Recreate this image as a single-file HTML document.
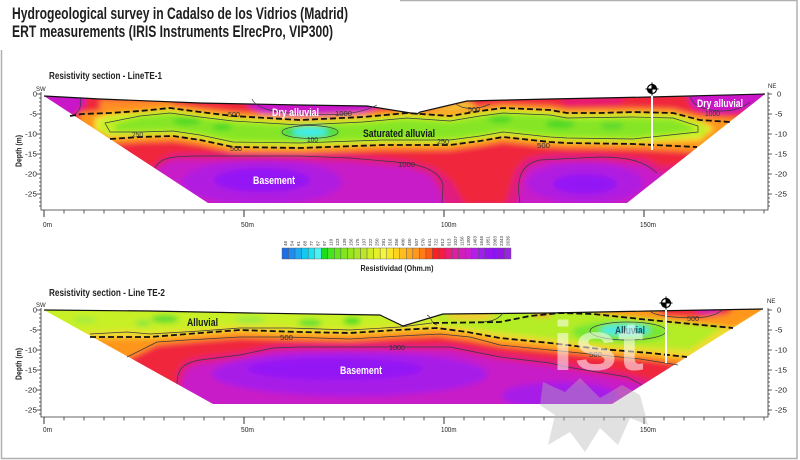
<!DOCTYPE html>
<html><head><meta charset="utf-8"><style>
html,body{margin:0;padding:0;background:#fff;}
svg{display:block;}
text{font-family:"Liberation Sans",Arial,sans-serif;}
</style></head><body>
<svg width="800" height="460" viewBox="0 0 800 460" xmlns="http://www.w3.org/2000/svg">
<defs>
<filter id="bl" x="-5%" y="-20%" width="110%" height="140%"><feGaussianBlur stdDeviation="2.6"/></filter>
<clipPath id="c1"><polygon points="44,96 100,99 200,103 300,105 367,106 417,114 420,112 467,101 550,99 650,97 765,94 627,203 208,203"/></clipPath>
<clipPath id="c2"><polygon points="44,310 150,311 250,313 380,315 403,326 443,314 550,313 650,311 763,309 612,404 213,404"/></clipPath>
</defs>

<!-- frame -->
<g stroke="#b0b0b0" stroke-width="1.5" fill="none">
<path d="M1.5,50 V458.5 H797 V0.5 H400"/>
</g>

<!-- titles -->
<text x="12" y="19" font-size="16.5" font-weight="bold" fill="#1e1e1e" textLength="336" lengthAdjust="spacingAndGlyphs">Hydrogeological survey in Cadalso de los Vidrios (Madrid)</text>
<text x="12" y="37" font-size="16.5" font-weight="bold" fill="#1e1e1e" textLength="321" lengthAdjust="spacingAndGlyphs">ERT measurements (IRIS Instruments ElrecPro, VIP300)</text>

<!-- ================= TE-1 ================= -->
<text x="49" y="79" font-size="10" font-weight="bold" fill="#222" textLength="113" lengthAdjust="spacingAndGlyphs">Resistivity section - LineTE-1</text>

<g clip-path="url(#c1)">
<g filter="url(#bl)">
<rect x="20" y="80" width="770" height="140" fill="#c81ec8"/>
<ellipse cx="262" cy="182" rx="80" ry="22" fill="#b01ee0"/>
<ellipse cx="262" cy="180" rx="48" ry="12" fill="#9414f5"/>
<ellipse cx="585" cy="183" rx="58" ry="20" fill="#b01ee0"/>
<ellipse cx="585" cy="184" rx="32" ry="10" fill="#9414f5"/>
<path fill="#e01e80" d="M20,80 H790 V172 L660,174 L645,165 L600,161 L550,161 L530,166 L522,178 L516,210 L446,210 L440,190 L430,175 L407,167 L350,162 L300,160 L173,160 L160,167 L150,178 L20,178 Z"/>
<path fill="#f0283c" d="M20,80 H790 V164 L660,166 L645,158 L600,154 L550,154 L527,158 L515,170 L505,205 L465,205 L452,182 L435,168 L407,160 L350,155 L300,154 L200,153 L173,153 L160,160 L150,168 L20,168 Z"/>
<path fill="#c814c8" d="M20,85 L88,85 L84,105 L75,114 L60,120 L20,120 Z"/>
<path fill="#c814c8" d="M245,95 L382,95 L380,106 L362,114 L330,117 L290,116 L262,114 L248,106 Z"/>
<path fill="#c814c8" d="M685,88 L780,88 L755,106 L738,112 L710,113 L692,107 Z"/>
<path fill="#e61478" d="M560,98 L625,97 L620,104 L565,105 Z"/>
<path fill="#ff8c28" d="M100,100 L170,100 L175,106 L100,110 Z"/>
<path fill="#f5be32" d="M420,112 L465,100 L478,107 L450,114 L425,115 Z"/>
<path fill="#ff961e" d="M80,113 L110,109 L140,107 L170,104 L200,108 L233,112 L300,116 L363,113 L407,109 L450,112 L480,107 L503,104 L550,106 L567,109 L633,108 L673,109 L700,116 L730,118 L770,120 L770,152 L697,152 L633,149 L567,148 L550,147 L503,142 L480,146 L450,150 L383,150 L300,153 L233,152 L200,145 L173,141 L140,142 L110,144 L80,140 Z"/>
<path fill="#eeee3a" d="M95,118 L110,114 L140,112 L170,109 L200,113 L233,117 L300,121 L363,118 L407,114 L450,117 L480,112 L503,109 L550,111 L567,114 L633,113 L673,114 L700,121 L714,128 L700,140 L633,143 L567,142 L550,141 L503,136 L480,140 L450,144 L383,144 L300,147 L233,146 L200,139 L173,135 L140,136 L110,137 L95,130 Z"/>
<path fill="#c3ee28" d="M100,122 L110,116 L140,113 L170,110 L200,114 L233,118 L300,122 L363,119 L407,115 L450,118 L480,113 L503,110 L550,112 L567,115 L633,114 L673,115 L700,122 L708,128 L705,136 L633,142 L567,141 L550,140 L503,135 L480,139 L450,143 L383,143 L300,146 L233,145 L200,138 L173,134 L140,135 L110,135 L100,130 Z"/>
<path fill="#86e628" d="M115,124 L140,117 L170,114 L200,118 L233,122 L300,126 L363,123 L407,119 L450,122 L480,117 L503,114 L550,116 L567,119 L633,118 L673,119 L693,127 L693,131 L633,138 L567,137 L550,136 L503,131 L480,135 L450,139 L383,139 L300,142 L233,141 L200,134 L173,130 L140,131 L115,131 Z"/>
<ellipse cx="187" cy="121" rx="14" ry="4" fill="#4ed828"/>
<ellipse cx="222" cy="127" rx="10" ry="3.5" fill="#4ed828"/>
<ellipse cx="500" cy="119" rx="12" ry="4" fill="#4ed828"/>
<ellipse cx="560" cy="124" rx="15" ry="4.5" fill="#4ed828"/>
<ellipse cx="612" cy="126" rx="12" ry="3.5" fill="#5ad82a"/>
<ellipse cx="310" cy="132" rx="29" ry="7" fill="#46dc46"/>
<ellipse cx="310" cy="132" rx="18" ry="4.5" fill="#40f0f0"/>
</g>
</g>
<!-- TE-1 surface -->
<polyline points="44,96 100,99 200,103 300,105 367,106 417,114 420,112 467,101 550,99 650,97 765,94" fill="none" stroke="#111" stroke-width="1.2"/>
<!-- TE-1 contours -->
<g fill="none" stroke="#3a3a3a" stroke-width="0.7">
<path d="M105,123 L140,116 L170,113 L200,117 L233,121 L300,125 L363,122 L407,118 L450,121 L480,116 L503,113 L550,115 L567,118 L633,117 L673,118 L698,126 L698,132 L633,139 L567,138 L550,137 L503,132 L480,136 L450,140 L383,140 L300,143 L233,142 L200,135 L173,131 L140,132 L110,132 Z"/>
<ellipse cx="310" cy="132" rx="28" ry="6.5"/>
<path d="M155,168 C160,158 170,156 200,156 L300,156 L350,158 L407,163 C425,166 440,172 443,185 L442,203"/>
<path d="M520,203 C517,185 517,165 540,160 L600,157 C630,157 645,162 657,173"/>
<path d="M252,99 C256,108 270,112 300,114 C340,116 360,114 377,105"/>
<path d="M690,96 C692,104 700,110 720,111 C735,111 742,108 750,102"/>
<path d="M80,97 C82,105 80,112 72,116"/>
<path d="M455,103 C462,110 478,110 490,104"/>
</g>
<g fill="none" stroke="#111" stroke-width="1.8" stroke-dasharray="6 3">
<polyline points="70,116 82,114 110,113 140,111 170,108 200,112 233,116 300,120 363,117 407,113 450,116 480,111 503,108 550,110 567,113 600,113 633,112 673,113 700,120 730,122"/>
<polyline points="110,139 140,137 173,136 200,140 233,147 300,148 383,145 450,145 480,141 503,137 550,142 567,143 633,144 697,147"/>
</g>
<g font-size="7.5" fill="#333">
<text x="132" y="137" textLength="11" lengthAdjust="spacingAndGlyphs">250</text>
<text x="228" y="117" textLength="12" lengthAdjust="spacingAndGlyphs">500</text>
<text x="230" y="151" textLength="12" lengthAdjust="spacingAndGlyphs">500</text>
<text x="335" y="116" textLength="17" lengthAdjust="spacingAndGlyphs">1000</text>
<text x="307" y="142" textLength="11" lengthAdjust="spacingAndGlyphs">100</text>
<text x="437" y="144" textLength="12" lengthAdjust="spacingAndGlyphs">250</text>
<text x="398" y="167" textLength="17" lengthAdjust="spacingAndGlyphs">1000</text>
<text x="468" y="112" textLength="12" lengthAdjust="spacingAndGlyphs">500</text>
<text x="537" y="148" textLength="13" lengthAdjust="spacingAndGlyphs">500</text>
<text x="705" y="116" textLength="15" lengthAdjust="spacingAndGlyphs">1000</text>
</g>
<g font-size="11" font-weight="bold">
<text x="272" y="116" fill="#fff" textLength="47" lengthAdjust="spacingAndGlyphs">Dry alluvial</text>
<text x="697" y="107" fill="#fff" textLength="46" lengthAdjust="spacingAndGlyphs">Dry alluvial</text>
<text x="363" y="137" fill="#1a1a1a" textLength="72" lengthAdjust="spacingAndGlyphs">Saturated alluvial</text>
<text x="253" y="184" fill="#fff" textLength="42" lengthAdjust="spacingAndGlyphs">Basement</text>
</g>
<!-- borehole TE-1 -->
<line x1="652" y1="95" x2="652" y2="150" stroke="#fff" stroke-width="2"/>
<g>
<circle cx="652" cy="89" r="4.5" fill="#fff" stroke="#000" stroke-width="1.2"/>
<path d="M652,89 L652,84.5 A4.5,4.5 0 0 1 656.5,89 Z" fill="#000"/>
<path d="M652,89 L652,93.5 A4.5,4.5 0 0 1 647.5,89 Z" fill="#000"/>
<path d="M645.5,89 H658.5 M652,82.5 V95.5" stroke="#000" stroke-width="1"/>
</g>
<!-- TE-1 axes -->
<g stroke="#333" stroke-width="0.8" fill="none">
<path d="M41,92 V210 H768 V92"/>
<path d="M39 94h2M39 98h2M39 102h2M39 106h2M39 110h2M39 114h2M39 118h2M39 122h2M39 126h2M39 130h2M39 134h2M39 138h2M39 142h2M39 146h2M39 150h2M39 154h2M39 158h2M39 162h2M39 166h2M39 170h2M39 174h2M39 178h2M39 182h2M39 186h2M39 190h2M39 194h2M39 198h2M39 202h2M39 206h2"/>
<path d="M37 94h4M37 114h4M37 134h4M37 154h4M37 174h4M37 194h4"/>
<path d="M768 94h2M768 98h2M768 102h2M768 106h2M768 110h2M768 114h2M768 118h2M768 122h2M768 126h2M768 130h2M768 134h2M768 138h2M768 142h2M768 146h2M768 150h2M768 154h2M768 158h2M768 162h2M768 166h2M768 170h2M768 174h2M768 178h2M768 182h2M768 186h2M768 190h2M768 194h2M768 198h2M768 202h2M768 206h2"/>
<path d="M768 94h4M768 114h4M768 134h4M768 154h4M768 174h4M768 194h4"/>
<path d="M64 210v3.5M84 210v3.5M104 210v3.5M124 210v3.5M144 210v3.5M164 210v3.5M184 210v3.5M204 210v3.5M224 210v3.5M264 210v3.5M284 210v3.5M304 210v3.5M324 210v3.5M344 210v3.5M364 210v3.5M384 210v3.5M404 210v3.5M424 210v3.5M464 210v3.5M484 210v3.5M504 210v3.5M524 210v3.5M544 210v3.5M564 210v3.5M584 210v3.5M604 210v3.5M624 210v3.5M664 210v3.5M684 210v3.5M704 210v3.5M724 210v3.5M744 210v3.5M764 210v3.5"/>
<path d="M44 210v7M244 210v7M444 210v7M644 210v7" stroke-width="1"/>
</g>
<g font-size="7.5" fill="#222">
<text x="37" y="96.7" text-anchor="end">0</text>
<text x="37" y="116.7" text-anchor="end" textLength="7.5" lengthAdjust="spacingAndGlyphs">-5</text>
<text x="37" y="136.7" text-anchor="end" textLength="12" lengthAdjust="spacingAndGlyphs">-10</text>
<text x="37" y="156.7" text-anchor="end" textLength="12" lengthAdjust="spacingAndGlyphs">-15</text>
<text x="37" y="176.7" text-anchor="end" textLength="12" lengthAdjust="spacingAndGlyphs">-20</text>
<text x="37" y="196.7" text-anchor="end" textLength="12" lengthAdjust="spacingAndGlyphs">-25</text>
<text x="777" y="96.7">0</text>
<text x="775" y="116.7" textLength="7.5" lengthAdjust="spacingAndGlyphs">-5</text>
<text x="775" y="136.7" textLength="12" lengthAdjust="spacingAndGlyphs">-10</text>
<text x="775" y="156.7" textLength="12" lengthAdjust="spacingAndGlyphs">-15</text>
<text x="775" y="176.7" textLength="12" lengthAdjust="spacingAndGlyphs">-20</text>
<text x="775" y="196.7" textLength="12" lengthAdjust="spacingAndGlyphs">-25</text>
<text x="43" y="227" textLength="9" lengthAdjust="spacingAndGlyphs">0m</text>
<text x="241" y="227" textLength="13" lengthAdjust="spacingAndGlyphs">50m</text>
<text x="441" y="227" textLength="15.5" lengthAdjust="spacingAndGlyphs">100m</text>
<text x="640" y="227" textLength="16" lengthAdjust="spacingAndGlyphs">150m</text>
<text x="36" y="91" font-size="6">SW</text>
<text x="768" y="88" font-size="6">NE</text>
</g>
<text transform="translate(21.5,167) rotate(-90)" font-size="8.5" font-weight="bold" fill="#222" textLength="32" lengthAdjust="spacingAndGlyphs">Depth (m)</text>

<!-- ================= Colorbar ================= -->
<g stroke="#555" stroke-width="0.4">
<rect x="282.00" y="248" width="6.54" height="11" fill="#1e6ee6"/>
<rect x="288.54" y="248" width="6.54" height="11" fill="#1e8cf0"/>
<rect x="295.09" y="248" width="6.54" height="11" fill="#1eaaf0"/>
<rect x="301.63" y="248" width="6.54" height="11" fill="#14c8f0"/>
<rect x="308.17" y="248" width="6.54" height="11" fill="#1ee1f0"/>
<rect x="314.71" y="248" width="6.54" height="11" fill="#50f0f0"/>
<rect x="321.26" y="248" width="6.54" height="11" fill="#1edc1e"/>
<rect x="327.80" y="248" width="6.54" height="11" fill="#46e61e"/>
<rect x="334.34" y="248" width="6.54" height="11" fill="#64e61e"/>
<rect x="340.89" y="248" width="6.54" height="11" fill="#82e61e"/>
<rect x="347.43" y="248" width="6.54" height="11" fill="#96e61e"/>
<rect x="353.97" y="248" width="6.54" height="11" fill="#aae628"/>
<rect x="360.51" y="248" width="6.54" height="11" fill="#bee628"/>
<rect x="367.06" y="248" width="6.54" height="11" fill="#d2eb28"/>
<rect x="373.60" y="248" width="6.54" height="11" fill="#e6f028"/>
<rect x="380.14" y="248" width="6.54" height="11" fill="#f5f53c"/>
<rect x="386.69" y="248" width="6.54" height="11" fill="#fae628"/>
<rect x="393.23" y="248" width="6.54" height="11" fill="#ffd21e"/>
<rect x="399.77" y="248" width="6.54" height="11" fill="#ffbe1e"/>
<rect x="406.31" y="248" width="6.54" height="11" fill="#ffaa1e"/>
<rect x="412.86" y="248" width="6.54" height="11" fill="#ff961e"/>
<rect x="419.40" y="248" width="6.54" height="11" fill="#ff7d14"/>
<rect x="425.94" y="248" width="6.54" height="11" fill="#ff5a14"/>
<rect x="432.49" y="248" width="6.54" height="11" fill="#ff1e1e"/>
<rect x="439.03" y="248" width="6.54" height="11" fill="#f01e46"/>
<rect x="445.57" y="248" width="6.54" height="11" fill="#e61e78"/>
<rect x="452.11" y="248" width="6.54" height="11" fill="#dc1ea0"/>
<rect x="458.66" y="248" width="6.54" height="11" fill="#d21eb9"/>
<rect x="465.20" y="248" width="6.54" height="11" fill="#c81ecd"/>
<rect x="471.74" y="248" width="6.54" height="11" fill="#b41ee6"/>
<rect x="478.29" y="248" width="6.54" height="11" fill="#a01ef0"/>
<rect x="484.83" y="248" width="6.54" height="11" fill="#9614f0"/>
<rect x="491.37" y="248" width="6.54" height="11" fill="#8c14f0"/>
<rect x="497.91" y="248" width="6.54" height="11" fill="#9614e6"/>
<rect x="504.46" y="248" width="6.54" height="11" fill="#9628e1"/>
</g>
<g font-size="4.5" fill="#333">
<text transform="translate(286.9,246) rotate(-90)">48</text>
<text transform="translate(293.4,246) rotate(-90)">54</text>
<text transform="translate(300.0,246) rotate(-90)">61</text>
<text transform="translate(306.5,246) rotate(-90)">68</text>
<text transform="translate(313.1,246) rotate(-90)">77</text>
<text transform="translate(319.6,246) rotate(-90)">87</text>
<text transform="translate(326.1,246) rotate(-90)">97</text>
<text transform="translate(332.7,246) rotate(-90)">110</text>
<text transform="translate(339.2,246) rotate(-90)">123</text>
<text transform="translate(345.8,246) rotate(-90)">139</text>
<text transform="translate(352.3,246) rotate(-90)">156</text>
<text transform="translate(358.8,246) rotate(-90)">175</text>
<text transform="translate(365.4,246) rotate(-90)">197</text>
<text transform="translate(371.9,246) rotate(-90)">222</text>
<text transform="translate(378.5,246) rotate(-90)">250</text>
<text transform="translate(385.0,246) rotate(-90)">281</text>
<text transform="translate(391.6,246) rotate(-90)">316</text>
<text transform="translate(398.1,246) rotate(-90)">356</text>
<text transform="translate(404.7,246) rotate(-90)">400</text>
<text transform="translate(411.2,246) rotate(-90)">450</text>
<text transform="translate(417.8,246) rotate(-90)">507</text>
<text transform="translate(424.3,246) rotate(-90)">570</text>
<text transform="translate(430.8,246) rotate(-90)">641</text>
<text transform="translate(437.4,246) rotate(-90)">722</text>
<text transform="translate(443.9,246) rotate(-90)">812</text>
<text transform="translate(450.5,246) rotate(-90)">913</text>
<text transform="translate(457.0,246) rotate(-90)">1027</text>
<text transform="translate(463.6,246) rotate(-90)">1156</text>
<text transform="translate(470.1,246) rotate(-90)">1300</text>
<text transform="translate(476.6,246) rotate(-90)">1463</text>
<text transform="translate(483.2,246) rotate(-90)">1646</text>
<text transform="translate(489.7,246) rotate(-90)">1851</text>
<text transform="translate(496.3,246) rotate(-90)">2083</text>
<text transform="translate(502.8,246) rotate(-90)">2343</text>
<text transform="translate(509.4,246) rotate(-90)">2636</text>
</g>
<text x="397" y="271" font-size="8" font-weight="bold" fill="#222" text-anchor="middle" textLength="73" lengthAdjust="spacingAndGlyphs">Resistividad (Ohm.m)</text>

<!-- ================= TE-2 ================= -->
<text x="49" y="296" font-size="10" font-weight="bold" fill="#222" textLength="116" lengthAdjust="spacingAndGlyphs">Resistivity section - Line TE-2</text>

<g clip-path="url(#c2)">
<g filter="url(#bl)">
<rect x="20" y="300" width="770" height="120" fill="#c81ec8"/>
<ellipse cx="350" cy="374" rx="138" ry="22" fill="#a81ee8"/>
<ellipse cx="335" cy="369" rx="88" ry="11" fill="#9414f5"/>
<ellipse cx="560" cy="396" rx="58" ry="14" fill="#a81ee8"/>
<path fill="#e01e80" d="M20,300 H790 V390 L660,390 L627,380 L567,370 L550,366 L500,360 L450,350 L397,350 L300,350 L273,351 L240,358 L200,364 L188,368 L182,380 L182,420 L20,420 Z"/>
<path fill="#f0283c" d="M20,300 H790 V383 L660,383 L627,373 L567,363 L550,359 L500,353 L450,344 L397,344 L300,344 L273,345 L240,352 L200,357 L185,361 L177,372 L175,420 L20,420 Z"/>
<path fill="#ff961e" d="M20,300 H790 V368 L690,366 L650,360 L600,356 L550,351 L500,346 L467,340 L437,336 L397,338 L350,341 L300,340 L240,338 L200,341 L157,345 L127,360 L20,360 Z"/>
<path fill="#f0dc32" d="M20,300 H790 V361 L685,358 L650,354 L600,350 L567,346 L550,344 L500,339 L467,333 L437,329 L397,331 L350,334 L300,333 L240,331 L200,334 L150,338 L90,338 L20,338 Z"/>
<path fill="#c8f028" d="M20,300 H432 L437,324 L397,326 L350,329 L300,328 L240,325 L200,329 L150,332 L127,330 L90,332 L20,332 Z"/>
<path fill="#b4ec28" d="M430,300 L600,300 L593,311 L650,317 L725,326 L690,350 L650,348 L600,344 L567,341 L550,339 L500,333 L467,328 L440,325 Z"/>
<path fill="#ff961e" d="M600,300 L790,300 L735,328 L650,319 L593,313 Z"/>
<path fill="#f0283c" d="M650,305 L735,305 L728,314 L700,318 L665,316 Z"/>
<ellipse cx="708" cy="310" rx="13" ry="3" fill="#c81ec8"/>
<ellipse cx="165" cy="319" rx="14" ry="4" fill="#5adc32"/>
<ellipse cx="143" cy="323" rx="8" ry="3" fill="#82e63c"/>
<ellipse cx="85" cy="320" rx="12" ry="3" fill="#a0eb3c"/>
<ellipse cx="250" cy="320" rx="15" ry="4" fill="#a0eb3c"/>
<ellipse cx="310" cy="323" rx="12" ry="4" fill="#64e032"/>
<ellipse cx="352" cy="321" rx="9" ry="4" fill="#46dc28"/>
<ellipse cx="470" cy="316" rx="25" ry="4" fill="#f5c832"/>
<ellipse cx="542" cy="314" rx="10" ry="3" fill="#ff9628"/>
<ellipse cx="620" cy="332" rx="48" ry="11" fill="#78e632"/>
<ellipse cx="625" cy="330" rx="25" ry="5" fill="#46ebf0"/>
<ellipse cx="640" cy="330" rx="10" ry="3" fill="#32e6f5"/>
</g>
</g>
<polyline points="44,310 150,311 250,313 380,315 403,326 443,314 550,313 650,311 763,309" fill="none" stroke="#111" stroke-width="1.2"/>
<g fill="none" stroke="#3a3a3a" stroke-width="0.7">
<path d="M90,334 L127,332 L150,334 L200,331 L240,328 L290,328 L350,330 L400,327 L432,323"/>
<path d="M127,357 L157,342 L187,340 L240,337 L287,337 L350,339 L400,336 L440,334 L470,337 L500,345 L550,350 L600,355 L640,359 L678,365"/>
<path d="M177,384 C177,370 182,363 200,360 L240,355 L273,348 L300,347 L397,347 L450,347 L500,357 L550,363 L567,367 L627,377 L642,385"/>
<path d="M650,311 C655,317 690,319 705,317 C716,315 720,312 722,310"/>
<ellipse cx="628" cy="331" rx="38" ry="9"/>
<path d="M427,315 C433,318 430,323 437,325"/>
<path d="M503,313 C498,320 490,322 480,322"/>
</g>
<g fill="none" stroke="#111" stroke-width="1.8" stroke-dasharray="6 3">
<polyline points="90,337 150,337 200,333 240,330 300,332 350,333 397,330 437,328 467,332 500,338 550,343 567,345 600,349 650,353 687,357"/>
<polyline points="433,323 500,322 530,316 560,313 593,314 650,320 733,328"/>
</g>
<g font-size="7.5" fill="#333">
<text x="280" y="340" textLength="13" lengthAdjust="spacingAndGlyphs">500</text>
<text x="389" y="350" textLength="16" lengthAdjust="spacingAndGlyphs">1000</text>
<text x="687" y="321" textLength="12" lengthAdjust="spacingAndGlyphs">500</text>
<text x="589" y="357" textLength="13" lengthAdjust="spacingAndGlyphs">500</text>
</g>
<g font-size="11" font-weight="bold">
<text x="187" y="326" fill="#1a1a1a" textLength="31" lengthAdjust="spacingAndGlyphs">Alluvial</text>
<text x="340" y="374" fill="#fff" textLength="42" lengthAdjust="spacingAndGlyphs">Basement</text>
<text x="615" y="334" fill="#222" fill-opacity="0.8" textLength="30" lengthAdjust="spacingAndGlyphs">Alluvial</text>
</g>
<line x1="666" y1="310" x2="666" y2="363" stroke="#fff" stroke-width="2"/>
<g>
<circle cx="666" cy="303" r="4.5" fill="#fff" stroke="#000" stroke-width="1.2"/>
<path d="M666,303 L666,298.5 A4.5,4.5 0 0 1 670.5,303 Z" fill="#000"/>
<path d="M666,303 L666,307.5 A4.5,4.5 0 0 1 661.5,303 Z" fill="#000"/>
<path d="M659.5,303 H672.5 M666,296.5 V309.5" stroke="#000" stroke-width="1"/>
</g>
<g stroke="#333" stroke-width="0.8" fill="none">
<path d="M41,308 V417 H768 V308"/>
<path d="M39 310h2M39 314h2M39 318h2M39 322h2M39 326h2M39 330h2M39 334h2M39 338h2M39 342h2M39 346h2M39 350h2M39 354h2M39 358h2M39 362h2M39 366h2M39 370h2M39 374h2M39 378h2M39 382h2M39 386h2M39 390h2M39 394h2M39 398h2M39 402h2M39 406h2M39 410h2M39 414h2"/>
<path d="M37 310h4M37 330h4M37 350h4M37 370h4M37 390h4M37 410h4"/>
<path d="M768 310h2M768 314h2M768 318h2M768 322h2M768 326h2M768 330h2M768 334h2M768 338h2M768 342h2M768 346h2M768 350h2M768 354h2M768 358h2M768 362h2M768 366h2M768 370h2M768 374h2M768 378h2M768 382h2M768 386h2M768 390h2M768 394h2M768 398h2M768 402h2M768 406h2M768 410h2M768 414h2"/>
<path d="M768 310h4M768 330h4M768 350h4M768 370h4M768 390h4M768 410h4"/>
<path d="M64 417v3.5M84 417v3.5M104 417v3.5M124 417v3.5M144 417v3.5M164 417v3.5M184 417v3.5M204 417v3.5M224 417v3.5M264 417v3.5M284 417v3.5M304 417v3.5M324 417v3.5M344 417v3.5M364 417v3.5M384 417v3.5M404 417v3.5M424 417v3.5M464 417v3.5M484 417v3.5M504 417v3.5M524 417v3.5M544 417v3.5M564 417v3.5M584 417v3.5M604 417v3.5M624 417v3.5M664 417v3.5M684 417v3.5M704 417v3.5M724 417v3.5M744 417v3.5M764 417v3.5"/>
<path d="M44 417v7M244 417v7M444 417v7M644 417v7" stroke-width="1"/>
</g>
<g font-size="7.5" fill="#222">
<text x="37" y="312.7" text-anchor="end">0</text>
<text x="37" y="332.7" text-anchor="end" textLength="7.5" lengthAdjust="spacingAndGlyphs">-5</text>
<text x="37" y="352.7" text-anchor="end" textLength="12" lengthAdjust="spacingAndGlyphs">-10</text>
<text x="37" y="372.7" text-anchor="end" textLength="12" lengthAdjust="spacingAndGlyphs">-15</text>
<text x="37" y="392.7" text-anchor="end" textLength="12" lengthAdjust="spacingAndGlyphs">-20</text>
<text x="37" y="412.7" text-anchor="end" textLength="12" lengthAdjust="spacingAndGlyphs">-25</text>
<text x="777" y="312.7">0</text>
<text x="775" y="332.7" textLength="7.5" lengthAdjust="spacingAndGlyphs">-5</text>
<text x="775" y="352.7" textLength="12" lengthAdjust="spacingAndGlyphs">-10</text>
<text x="775" y="372.7" textLength="12" lengthAdjust="spacingAndGlyphs">-15</text>
<text x="775" y="392.7" textLength="12" lengthAdjust="spacingAndGlyphs">-20</text>
<text x="775" y="412.7" textLength="12" lengthAdjust="spacingAndGlyphs">-25</text>
<text x="43" y="432" textLength="9" lengthAdjust="spacingAndGlyphs">0m</text>
<text x="241" y="432" textLength="13" lengthAdjust="spacingAndGlyphs">50m</text>
<text x="441" y="432" textLength="15.5" lengthAdjust="spacingAndGlyphs">100m</text>
<text x="640" y="432" textLength="16" lengthAdjust="spacingAndGlyphs">150m</text>
<text x="36" y="307" font-size="6">SW</text>
<text x="767" y="303" font-size="6">NE</text>
</g>
<text transform="translate(21.5,380) rotate(-90)" font-size="8.5" font-weight="bold" fill="#222" textLength="32" lengthAdjust="spacingAndGlyphs">Depth (m)</text>

<!-- watermark -->
<polygon points="543,382 565,392 580,378 600,398 622,385 640,395 648,425 630,418 618,445 600,428 585,452 570,432 548,445 555,415 540,405" fill="#b4b4b4" fill-opacity="0.4"/>
<text x="552" y="370" font-size="70" font-weight="bold" fill="#fff" fill-opacity="0.55" textLength="92" lengthAdjust="spacingAndGlyphs">ist</text>
</svg>
</body></html>
